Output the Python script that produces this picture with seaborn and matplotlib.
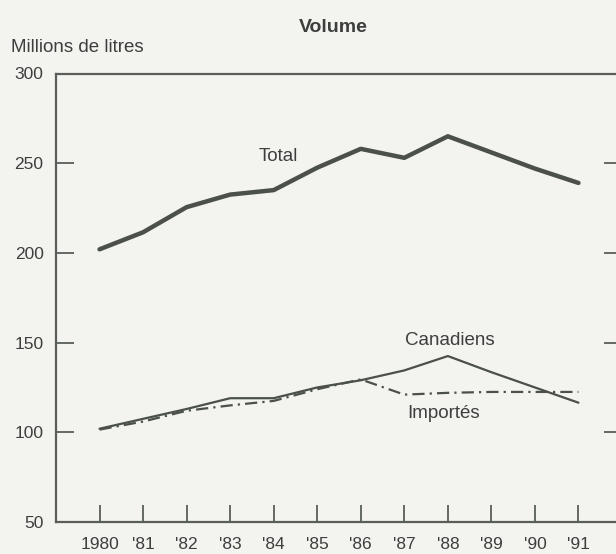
import seaborn as sns
import pandas as pd
import matplotlib.pyplot as plt

years = [1980, 1981, 1982, 1983, 1984, 1985, 1986, 1987, 1988, 1989, 1990, 1991]
year_labels = ["1980", "'81", "'82", "'83", "'84", "'85", "'86", "'87", "'88", "'89", "'90", "'91"]
total = [202, 211.5, 225.5, 232.5, 235, 247.5, 258, 253, 265, 256, 247, 239]
canadiens = [102, 107.5, 113, 119, 119, 125, 129, 134.5, 142.5, 133.5, 125, 116.5]
importes = [101.5, 106, 112, 115, 117.5, 124, 129.5, 121, 122, 122.5, 122.5, 122.5]
y_ticks = [50, 100, 150, 200, 250, 300]

df = pd.DataFrame({"annee": years, "Total": total,
                   "Canadiens": canadiens, "Importés": importes})

sns.set_style("white")
plt.rcParams['font.family'] = ['Liberation Sans', 'DejaVu Sans']

bg = '#f3f3f0'
ink = '#4b504b'
txt = '#3c3f3c'

fig = plt.figure(figsize=(6.16, 5.54), dpi=100, facecolor=bg)
ax = fig.add_axes([56 / 616, 32 / 554, 566 / 616, 448.5 / 554])
ax.set_facecolor(bg)

sns.lineplot(data=df, x="annee", y="Total", ax=ax, color=ink, linewidth=3.2)
sns.lineplot(data=df, x="annee", y="Canadiens", ax=ax, color=ink, linewidth=1.6)
sns.lineplot(data=df, x="annee", y="Importés", ax=ax, color=ink, linewidth=1.6,
             linestyle=(0, (5.5, 2.3, 1, 2.3)))

ax.set_xlim(1979, 1992)
ax.set_ylim(50, 300)
ax.set_xticks(years)
ax.set_xticklabels(year_labels)
ax.set_yticks(y_ticks)
ax.set_xlabel("")
ax.set_ylabel("")

for s in ax.spines.values():
    s.set_color('#5a5e5a')
    s.set_linewidth(1.6)

ax.tick_params(axis='x', direction='in', length=12, width=1.3, color='#5a5e5a',
               labelsize=12.5, labelcolor=txt, pad=11, bottom=True)
ax.tick_params(axis='y', direction='in', length=13, width=1.3, color='#5a5e5a',
               labelsize=12.5, labelcolor=txt, pad=9, left=True, right=True)

ax.text(1984.1, 254, "Total", fontsize=13.5, color=txt, ha='center', va='center')
ax.text(1988.05, 151, "Canadiens", fontsize=13.5, color=txt, ha='center', va='center')
ax.text(1987.9, 110.3, "Importés", fontsize=13.5, color=txt, ha='center', va='center')

fig.text(333 / 616, 1 - 27 / 554, "Volume", fontsize=14, fontweight='bold',
         color=txt, ha='center', va='center')
fig.text(11 / 616, 1 - 47 / 554, "Millions de litres", fontsize=13.5,
         color=txt, ha='left', va='center')

fig.savefig("out.png", dpi=100, facecolor=bg)
